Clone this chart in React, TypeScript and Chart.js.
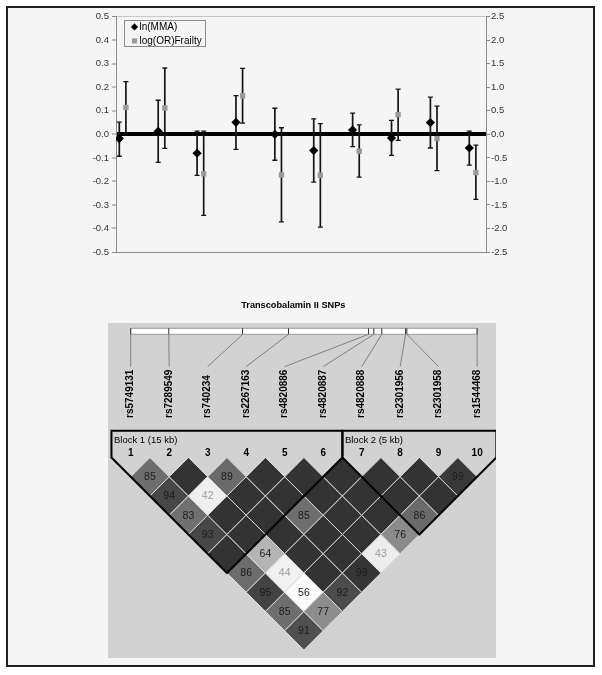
import React, { useEffect, useRef } from 'react';
import { Chart, registerables } from 'chart.js';

Chart.register(...registerables);

// ---------- data ----------
const snpNames = ['rs5749131', 'rs7289549', 'rs740234', 'rs2267163', 'rs4820886', 'rs4820887', 'rs4820888', 'rs2301956', 'rs2301958', 'rs1544468'];
const snpPositionsKb = [0, 2.35, 6.91, 9.75, 14.69, 15.02, 15.51, 16.98, 17.06, 21.4];

const mmaLabel = 'ln(MMA)';
const mmaValues = [-0.018, 0.013, -0.08, 0.051, 0.0, -0.069, 0.019, -0.015, 0.05, -0.058];
const mmaLow = [-0.093, -0.119, -0.174, -0.064, -0.11, -0.203, -0.052, -0.089, -0.058, -0.131];
const mmaHigh = [0.052, 0.145, 0.014, 0.165, 0.111, 0.066, 0.09, 0.059, 0.158, 0.014];

const frailtyLabel = 'log(OR)Frailty';
const frailtyValues = [0.57, 0.56, -0.84, 0.82, -0.86, -0.87, -0.36, 0.42, -0.09, -0.81];
const frailtyLow = [0.03, -0.3, -1.72, 0.24, -1.86, -1.97, -0.91, -0.13, -0.77, -1.38];
const frailtyHigh = [1.12, 1.41, 0.07, 1.4, 0.14, 0.23, 0.2, 0.96, 0.6, -0.23];

const mmaAxisTicks = [-0.5, -0.4, -0.3, -0.2, -0.1, 0, 0.1, 0.2, 0.3, 0.4, 0.5];
const frailtyAxisTicks = [-2.5, -2, -1.5, -1, -0.5, 0, 0.5, 1, 1.5, 2, 2.5];

const xAxisTitle = 'Transcobalamin II SNPs';

// LD matrix: row i (marker i), entries for markers j = i+1..10
const ldDprime = [
  [85, 94, 83, 93, 100, 86, 95, 85, 91],
  [100, 42, 100, 100, 64, 44, 56, 77],
  [89, 100, 100, 100, 100, 100, 92],
  [100, 100, 85, 100, 100, 99],
  [100, 100, 100, 100, 43],
  [100, 100, 100, 76],
  [100, 100, 86],
  [100, 100],
  [99],
];
const ldR2 = [
  [0.71, 0.9, 0.7, 0.9, 1, 0.72, 0.92, 0.71, 0.86],
  [1, 0.08, 1, 1, 0.37, 0.07, 0.02, 0.56],
  [0.73, 1, 1, 1, 1, 1, 0.88],
  [1, 1, 0.71, 1, 1, 0.99],
  [1, 1, 1, 1, 0.09],
  [1, 1, 1, 0.57],
  [1, 1, 0.73],
  [1, 1],
  [0.97],
];
const blockNames = ['Block 1 (15 kb)', 'Block 2 (5 kb)'];
const blockFirst = [1, 7];
const blockLast = [6, 10];

// ---------- styling ----------
const FONT = '"Liberation Sans", Arial, Helvetica, sans-serif';
const SERIES_OFFSET = 0.17;

// ---------- top chart plugins ----------
const errorBarPlugin = {
  id: 'errorBars',
  beforeDatasetsDraw(chart: any) {
    const { ctx } = chart;
    ctx.save();
    chart.data.datasets.forEach((ds: any, di: number) => {
      const meta = chart.getDatasetMeta(di);
      const scale = chart.scales[ds.yAxisID];
      meta.data.forEach((el: any, k: number) => {
        const x = el.x;
        const yl = scale.getPixelForValue(ds.errLow[k]);
        const yh = scale.getPixelForValue(ds.errHigh[k]);
        ctx.strokeStyle = '#151515';
        ctx.lineWidth = 1.7;
        ctx.beginPath();
        ctx.moveTo(x, yl);
        ctx.lineTo(x, yh);
        ctx.stroke();
        ctx.lineWidth = 1.3;
        ctx.beginPath();
        ctx.moveTo(x - 2.5, yl);
        ctx.lineTo(x + 2.5, yl);
        ctx.moveTo(x - 2.5, yh);
        ctx.lineTo(x + 2.5, yh);
        ctx.stroke();
      });
    });
    ctx.restore();
  },
};

const boxedLegendPlugin = {
  id: 'boxedLegend',
  afterDraw(chart: any) {
    const { ctx, chartArea: a } = chart;
    const bx = a.left + 8.3;
    const by = a.top + 3.3;
    const bw = 81.4;
    const bh = 25.7;
    ctx.save();
    ctx.fillStyle = '#f5f5f5';
    ctx.fillRect(bx, by, bw, bh);
    ctx.strokeStyle = '#8a8a8a';
    ctx.lineWidth = 1;
    ctx.strokeRect(Math.round(bx) + 0.5, Math.round(by) + 0.5, Math.round(bw), Math.round(bh));
    chart.data.datasets.forEach((ds: any, k: number) => {
      const cy = by + 6.9 + k * 14;
      const cx = bx + 10.2;
      ctx.fillStyle = ds.backgroundColor;
      ctx.beginPath();
      if (ds.pointStyle === 'rectRot') {
        const r = 3.6;
        ctx.moveTo(cx - r, cy);
        ctx.lineTo(cx, cy - r);
        ctx.lineTo(cx + r, cy);
        ctx.lineTo(cx, cy + r);
        ctx.closePath();
      } else {
        ctx.rect(cx - 2.6, cy - 2.6, 5.2, 5.2);
      }
      ctx.fill();
      ctx.fillStyle = '#000';
      ctx.font = `10px ${FONT}`;
      ctx.textAlign = 'left';
      ctx.textBaseline = 'middle';
      ctx.fillText(ds.label, bx + 15.2, cy + 0.5);
    });
    ctx.restore();
  },
};

function gridColor(c: any) {
  const v = c.tick ? c.tick.value : null;
  if (v === 0) return '#000';
  if (v === 0.5) return '#c6c6c6';
  if (v === -0.5) return '#8a8a8a';
  return 'rgba(0,0,0,0)';
}
function gridWidth(c: any) {
  const v = c.tick ? c.tick.value : null;
  if (v === 0) return 4;
  if (v === 0.5 || v === -0.5) return 1;
  return 0;
}

function topConfig(): any {
  return {
    type: 'scatter',
    data: {
      datasets: [
        {
          label: mmaLabel,
          data: mmaValues.map((v, k) => ({ x: k + 1, y: v })),
          errLow: mmaLow,
          errHigh: mmaHigh,
          yAxisID: 'y',
          pointStyle: 'rectRot',
          radius: 4.6,
          backgroundColor: '#000000',
          borderWidth: 0,
        },
        {
          label: frailtyLabel,
          data: frailtyValues.map((v, k) => ({ x: k + 1 + SERIES_OFFSET, y: v })),
          errLow: frailtyLow,
          errHigh: frailtyHigh,
          yAxisID: 'y1',
          pointStyle: 'rect',
          radius: 3.8,
          backgroundColor: '#9a9a9a',
          borderWidth: 0,
        },
      ],
    },
    options: {
      responsive: false,
      animation: false,
      events: [],
      layout: { padding: { left: 0, right: 14.4, top: 8, bottom: 0 } },
      plugins: {
        legend: { display: false },
        tooltip: { enabled: false },
        title: {
          display: true,
          position: 'bottom',
          text: xAxisTitle,
          color: '#000',
          font: { family: FONT, size: 9.2, weight: 'bold' },
          padding: { top: 48, bottom: 0.96 },
        },
      },
      scales: {
        x: { type: 'linear', display: false, min: 0.915, max: 10.43 },
        y: {
          type: 'linear',
          position: 'left',
          min: -0.5,
          max: 0.5,
          afterBuildTicks: (s: any) => {
            s.ticks = mmaAxisTicks.map((v) => ({ value: v }));
          },
          afterFit: (s: any) => {
            s.width = 108;
          },
          ticks: {
            color: '#333',
            font: { family: FONT, size: 9.5 },
            padding: 3,
            callback: (v: any) => Number(v).toFixed(1),
          },
          grid: {
            drawOnChartArea: true,
            drawTicks: true,
            tickLength: 4,
            tickColor: '#8a8a8a',
            tickWidth: 1,
            color: gridColor,
            lineWidth: gridWidth,
          },
          border: { display: true, color: '#8a8a8a', width: 1 },
        },
        y1: {
          type: 'linear',
          position: 'right',
          min: -2.5,
          max: 2.5,
          afterBuildTicks: (s: any) => {
            s.ticks = frailtyAxisTicks.map((v) => ({ value: v }));
          },
          afterFit: (s: any) => {
            s.width = 92.6;
          },
          ticks: {
            color: '#333',
            font: { family: FONT, size: 9.5 },
            padding: 1,
            callback: (v: any) => Number(v).toFixed(1),
          },
          grid: {
            drawOnChartArea: false,
            drawTicks: true,
            tickLength: 4,
            color: '#8a8a8a',
            tickColor: '#8a8a8a',
            tickWidth: 1,
          },
          border: { display: true, color: '#8a8a8a', width: 1 },
        },
      },
    },
    plugins: [errorBarPlugin, boxedLegendPlugin],
  };
}

// ---------- LD plot ----------
const RULER_TOP = -3.357;
const RULER_BOTTOM = -3.2;
const CONNECTOR_END = -2.36;
const LABEL_BASE = -1.026;
const NUMBER_ROW = -0.11;
const BLOCK_TOP = -0.696;
const BLOCK_LABEL_ROW = -0.436;

function r2Shade(r2: number) {
  const l = Math.round(255 - r2 * 204);
  return `rgb(${l},${l},${l})`;
}

function ldCells() {
  const cells: any[] = [];
  ldDprime.forEach((row, ri) => {
    row.forEach((d, ci) => {
      const i = ri + 1;
      const j = i + 1 + ci;
      cells.push({ x: (i + j) / 2, y: (j - i) / 2, d, r2: ldR2[ri][ci] });
    });
  });
  return cells;
}

const ldPlugin = {
  id: 'ldDecor',
  beforeDatasetsDraw(chart: any) {
    const { ctx } = chart;
    const sx = chart.scales.x;
    const sy = chart.scales.y;
    const X = (v: number) => sx.getPixelForValue(v);
    const Y = (v: number) => sy.getPixelForValue(v);
    const n = snpNames.length;
    const kb0 = snpPositionsKb[0];
    const kbN = snpPositionsKb[n - 1];
    const physX = (kb: number) => 1 + ((n - 1) * (kb - kb0)) / (kbN - kb0);
    ctx.save();
    // ruler
    const rx0 = X(physX(kb0));
    const rx1 = X(physX(kbN));
    const ry0 = Y(RULER_TOP);
    const ry1 = Y(RULER_BOTTOM);
    ctx.fillStyle = '#ffffff';
    ctx.fillRect(rx0, ry0, rx1 - rx0, ry1 - ry0);
    ctx.strokeStyle = '#9a9a9a';
    ctx.lineWidth = 1;
    ctx.strokeRect(rx0, ry0, rx1 - rx0, ry1 - ry0);
    // ticks & connectors
    snpPositionsKb.forEach((kb, k) => {
      const px = X(physX(kb));
      ctx.strokeStyle = '#333';
      ctx.lineWidth = 1;
      ctx.beginPath();
      ctx.moveTo(px, ry0);
      ctx.lineTo(px, ry1);
      ctx.stroke();
      ctx.strokeStyle = '#808080';
      ctx.beginPath();
      ctx.moveTo(px, ry1);
      ctx.lineTo(X(k + 1), Y(CONNECTOR_END));
      ctx.stroke();
    });
    // SNP labels (rotated)
    ctx.fillStyle = '#000';
    ctx.font = `bold 10px ${FONT}`;
    snpNames.forEach((name, k) => {
      ctx.save();
      ctx.translate(X(k + 1), Y(LABEL_BASE));
      ctx.rotate(-Math.PI / 2);
      ctx.textAlign = 'left';
      ctx.textBaseline = 'middle';
      ctx.fillText(name, 0, 0);
      ctx.restore();
    });
    // marker numbers
    ctx.textAlign = 'center';
    ctx.textBaseline = 'middle';
    ctx.font = `bold 10px ${FONT}`;
    snpNames.forEach((_, k) => {
      ctx.fillText(String(k + 1), X(k + 1), Y(NUMBER_ROW));
    });
    // block names
    ctx.font = `9.5px ${FONT}`;
    ctx.textAlign = 'left';
    blockNames.forEach((name, b) => {
      ctx.fillText(name, X(blockFirst[b] - 0.5) + 2.5, Y(BLOCK_LABEL_ROW));
    });
    ctx.restore();
  },
  afterDatasetsDraw(chart: any) {
    const { ctx } = chart;
    const sx = chart.scales.x;
    const sy = chart.scales.y;
    const X = (v: number) => sx.getPixelForValue(v);
    const Y = (v: number) => sy.getPixelForValue(v);
    ctx.save();
    // cell values
    ctx.font = `10.5px ${FONT}`;
    ctx.textAlign = 'center';
    ctx.textBaseline = 'middle';
    chart.data.datasets[0].data.forEach((c: any) => {
      if (c.d >= 100) return;
      ctx.fillStyle = c.d < 50 ? '#9c9c9c' : '#1c1c1c';
      ctx.fillText(String(c.d), X(c.x), Y(c.y) + 0.5);
    });
    // block outlines
    ctx.strokeStyle = '#000';
    ctx.lineWidth = 2;
    ctx.lineJoin = 'miter';
    blockNames.forEach((_, b) => {
      const f = blockFirst[b];
      const l = blockLast[b];
      ctx.beginPath();
      ctx.moveTo(X(f - 0.5), Y(BLOCK_TOP));
      ctx.lineTo(X(l + 0.5), Y(BLOCK_TOP));
      ctx.lineTo(X(l + 0.5), Y(0));
      ctx.lineTo(X((f + l) / 2), Y((l - f + 1) / 2));
      ctx.lineTo(X(f - 0.5), Y(0));
      ctx.closePath();
      ctx.stroke();
    });
    ctx.restore();
  },
};

function ldConfig(): any {
  return {
    type: 'scatter',
    data: {
      datasets: [
        {
          data: ldCells(),
          pointStyle: 'rectRot',
          radius: (c: any) => {
            const s = c.chart.scales.x;
            return Math.abs(s.getPixelForValue(1) - s.getPixelForValue(0.5));
          },
          backgroundColor: (c: any) => (c.raw ? r2Shade(c.raw.r2) : '#333'),
          borderColor: '#d9d9d9',
          borderWidth: 1,
          clip: false,
        },
      ],
    },
    options: {
      responsive: false,
      animation: false,
      events: [],
      layout: { padding: 0 },
      plugins: { legend: { display: false }, tooltip: { enabled: false }, title: { display: false } },
      scales: {
        x: { type: 'linear', display: false, min: 0.41, max: 10.49 },
        y: { type: 'linear', display: false, reverse: true, min: -3.494, max: 5.209 },
      },
    },
    plugins: [ldPlugin],
  };
}

export default function App() {
  const topRef = useRef<HTMLCanvasElement>(null);
  const ldRef = useRef<HTMLCanvasElement>(null);
  useEffect(() => {
    const c1 = new Chart(topRef.current as HTMLCanvasElement, topConfig());
    const c2 = new Chart(ldRef.current as HTMLCanvasElement, ldConfig());
    return () => {
      c1.destroy();
      c2.destroy();
    };
  }, []);
  return (
    <div
      style={{
        position: 'absolute',
        left: 6,
        top: 6,
        width: 589,
        height: 661,
        border: '2px solid #222',
        boxSizing: 'border-box',
        background: '#f5f5f5',
      }}
    >
      <canvas
        ref={topRef}
        width={585}
        height={304}
        style={{ position: 'absolute', left: 0, top: 0, width: 585, height: 304 }}
      />
      <canvas
        ref={ldRef}
        width={388}
        height={335}
        style={{ position: 'absolute', left: 100, top: 315, width: 388, height: 335, background: '#d2d2d2' }}
      />
    </div>
  );
}
